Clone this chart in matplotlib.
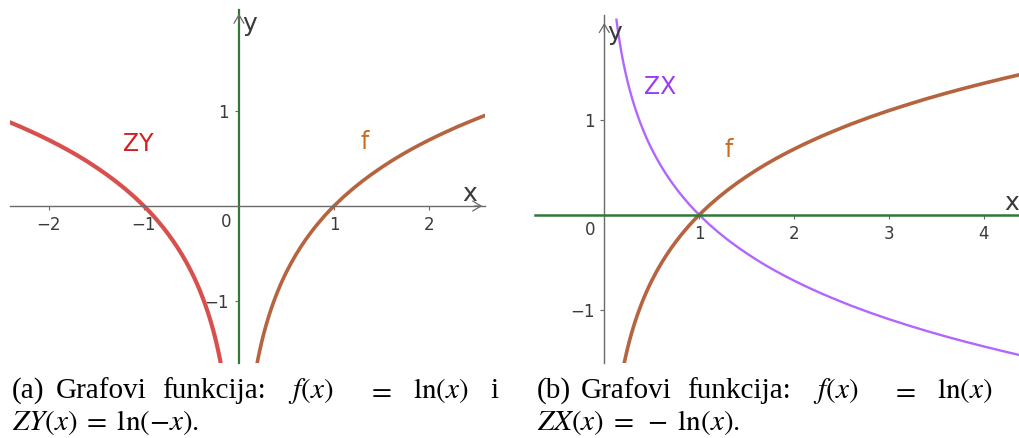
import matplotlib
matplotlib.use('Agg')
import matplotlib.pyplot as plt

plt.rcParams['mathtext.fontset'] = 'stix'

# sample points of ln(x) (x > 0)
X_PTS = [0.128, 0.135, 0.14, 0.15, 0.16, 0.17, 0.18, 0.19, 0.2, 0.21, 0.22, 0.23,
         0.24, 0.25, 0.27, 0.29, 0.31, 0.33, 0.35, 0.38, 0.41, 0.44, 0.47, 0.5,
         0.55, 0.6, 0.65, 0.7, 0.75, 0.8, 0.85, 0.9, 0.95, 1.0, 1.1, 1.2, 1.3,
         1.4, 1.5, 1.6, 1.7, 1.8, 1.9, 2.0, 2.1, 2.2, 2.3, 2.4, 2.5, 2.6, 2.8,
         3.0, 3.2, 3.4, 3.6, 3.8, 4.0, 4.2, 4.4]
LN_PTS = [-2.056, -2.002, -1.966, -1.897, -1.833, -1.772, -1.715, -1.661, -1.609,
          -1.561, -1.514, -1.470, -1.427, -1.386, -1.309, -1.238, -1.171, -1.109,
          -1.050, -0.968, -0.892, -0.821, -0.755, -0.693, -0.598, -0.511, -0.431,
          -0.357, -0.288, -0.223, -0.163, -0.105, -0.051, 0.0, 0.095, 0.182,
          0.262, 0.336, 0.405, 0.470, 0.531, 0.588, 0.642, 0.693, 0.742, 0.788,
          0.833, 0.875, 0.916, 0.956, 1.030, 1.099, 1.163, 1.224, 1.281, 1.335,
          1.386, 1.435, 1.482]

left_xticks = [-2, -1, 1, 2]
left_yticks = [-1, 1]
right_xticks = [1, 2, 3, 4]
right_yticks = [-1, 1]

W, H = 1020, 438
RED = '#d8504e'
BROWN = '#b5643f'
PURPLE = '#b266ff'
GREEN = '#2f7a35'
GRAY = '#6a6a6a'
TXT = '#3a3a3a'

fig = plt.figure(figsize=(W / 100, H / 100), dpi=100)


def px_axes(x0, y0, x1, y1):
    return fig.add_axes([x0 / W, 1 - y1 / H, (x1 - x0) / W, (y1 - y0) / H])


def setup(ax, xlim, ylim, xticks, yticks, ycol, xcol, ylw, xlw):
    ax.set_xlim(*xlim)
    ax.set_ylim(*ylim)
    for s in ['top', 'right']:
        ax.spines[s].set_visible(False)
    ax.spines['left'].set_position(('data', 0))
    ax.spines['bottom'].set_position(('data', 0))
    ax.spines['left'].set_color(ycol)
    ax.spines['left'].set_linewidth(ylw)
    ax.spines['bottom'].set_color(xcol)
    ax.spines['bottom'].set_linewidth(xlw)
    ax.set_xticks(xticks)
    ax.set_yticks(yticks)
    ax.set_xticklabels(['\u2212' + str(-t) if t < 0 else str(t) for t in xticks])
    ax.set_yticklabels(['\u2212' + str(-t) if t < 0 else str(t) for t in yticks])
    ax.tick_params(direction='out', length=3, width=0.8, color=GRAY,
                   labelcolor=TXT, labelsize=12, pad=4)
    ax.patch.set_visible(False)


arrow = dict(arrowstyle='->,head_length=0.5,head_width=0.3', color=GRAY,
             lw=0.9, mutation_scale=12)

# (a)
ax1 = px_axes(10, 10, 485, 363)
setup(ax1, (-2.41, 2.59), (-1.65, 2.06), left_xticks, left_yticks,
      GREEN, GRAY, 1.6, 1.0)
ax1.plot(X_PTS, LN_PTS, color=BROWN, lw=2.6, solid_capstyle='butt')
ax1.plot([-x for x in X_PTS], LN_PTS, color=RED, lw=3.0, solid_capstyle='butt')
ax1.annotate('', xy=(2.59, 0), xytext=(2.45, 0), arrowprops=arrow)
ax1.annotate('', xy=(0, 2.05), xytext=(0, 1.9), arrowprops=arrow)
ax1.text(-0.14, -0.17, '0', color=TXT, fontsize=12, ha='center', va='center')
ax1.text(-1.065, 0.65, 'ZY', color='#d41f22', fontsize=17, ha='center', va='center')
ax1.text(1.32, 0.67, 'f', color='#cc6a1f', fontsize=17, ha='center', va='center')
ax1.text(2.43, 0.13, 'x', color=TXT, fontsize=18, ha='center', va='center')
ax1.text(0.11, 1.91, 'y', color=TXT, fontsize=18, ha='center', va='center')

# (b)
ax2 = px_axes(535, 15, 1020, 363)
setup(ax2, (-0.73, 4.38), (-1.56, 2.105), right_xticks, right_yticks,
      GRAY, GREEN, 1.0, 1.8)
ax2.plot(X_PTS, [-v for v in LN_PTS], color=PURPLE, lw=1.7)
ax2.plot(X_PTS, LN_PTS, color=BROWN, lw=2.6, solid_capstyle='butt')
ax2.annotate('', xy=(0, 2.05), xytext=(0, 1.9), arrowprops=arrow)
ax2.text(-0.15, -0.16, '0', color=TXT, fontsize=12, ha='center', va='center')
ax2.text(0.585, 1.35, 'ZX', color='#9a3cf5', fontsize=17, ha='center', va='center')
ax2.text(1.31, 0.68, 'f', color='#cc6a1f', fontsize=17, ha='center', va='center')
ax2.text(0.11, 1.92, 'y', color=TXT, fontsize=18, ha='center', va='center')
ax2.text(4.375, 0.13, 'x', color=TXT, fontsize=18, ha='right', va='center',
         clip_on=False)

# captions
cap = dict(fontsize=21, family='Liberation Serif', color='black', va='baseline')


def ptext(x, y, s):
    fig.text(x / W, 1 - y / H, s, **cap)


y1, y2 = 398, 430
ptext(12, y1, '(a)')
ptext(56, y1, 'Grafovi')
ptext(162, y1, 'funkcija:')
ptext(288, y1, '$f(x)$')
ptext(367, y1, '$=$')
ptext(413, y1, '$\\mathrm{ln}(x)$')
ptext(490, y1, 'i')
ptext(12, y2, '$ZY(x)\\;=\\;\\mathrm{ln}(-x).$')

ptext(537, y1, '(b)')
ptext(581, y1, 'Grafovi')
ptext(687, y1, 'funkcija:')
ptext(813, y1, '$f(x)$')
ptext(891, y1, '$=$')
ptext(937, y1, '$\\mathrm{ln}(x)$')
ptext(537, y2, '$ZX(x)\\;=\\;-\\;\\mathrm{ln}(x).$')

fig.savefig('out.png', dpi=100)
